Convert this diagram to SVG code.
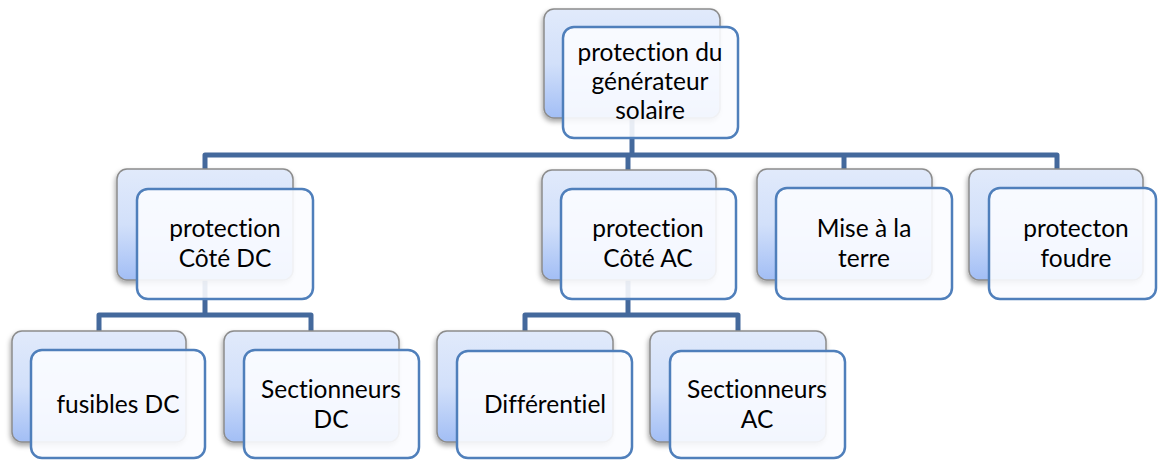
<svg xmlns="http://www.w3.org/2000/svg" width="1158" height="460" viewBox="0 0 1158 460">
<defs>
<linearGradient id="bg" x1="0" y1="0" x2="0" y2="1">
<stop offset="0" stop-color="#e1eafb"/>
<stop offset="0.5" stop-color="#d2e0fa"/>
<stop offset="1" stop-color="#a2bef5"/>
</linearGradient>
<filter id="sh" x="-20%" y="-20%" width="140%" height="150%">
<feDropShadow dx="-1" dy="3" stdDeviation="2.5" flood-color="#000" flood-opacity="0.35"/>
</filter>
</defs>
<style>
.back{fill:url(#bg);stroke:#8c8c8c;stroke-width:1.5;filter:url(#sh)}
.front{fill:#fbfcff;fill-opacity:0.9;stroke:#4f7fbb;stroke-width:2.5}
.con{fill:none;stroke:#44699c;stroke-width:5;stroke-linejoin:round}
text{font-family:Lato,"Open Sans","Liberation Sans",sans-serif;font-size:24.5px;fill:#000;text-anchor:middle;font-variant-ligatures:none;font-feature-settings:"liga" 0,"clig" 0,"dlig" 0}
</style>
<g id="connectors">
<path class="con" d="M632,118 V155"/>
<path class="con" d="M205,169 V155 H1057 V169"/>
<path class="con" d="M628,155 V170"/>
<path class="con" d="M844,155 V169"/>
<path class="con" d="M205,280 V315"/>
<path class="con" d="M99,331 V315 H311 V331"/>
<path class="con" d="M628,280 V315"/>
<path class="con" d="M525,331 V315 H738 V331"/>
</g>
<g id="n-top">
<rect class="back" x="544" y="9" width="176" height="109" rx="10"/>
<rect class="front" x="563" y="27" width="175" height="111" rx="11"/>
<text x="650" y="61">protection du</text>
<text x="650" y="90">générateur</text>
<text x="650" y="119">solaire</text>
</g>
<g id="n-dc">
<rect class="back" x="117" y="169" width="176" height="111" rx="10"/>
<rect class="front" x="137" y="189" width="176" height="110" rx="11"/>
<text x="225" y="237">protection</text>
<text x="225" y="267">Côté DC</text>
</g>
<g id="n-ac">
<rect class="back" x="542" y="170" width="174" height="110" rx="10"/>
<rect class="front" x="561" y="189" width="175" height="110" rx="11"/>
<text x="648" y="237">protection</text>
<text x="648" y="267">Côté AC</text>
</g>
<g id="n-terre">
<rect class="back" x="757" y="169" width="175" height="111" rx="10"/>
<rect class="front" x="776" y="188" width="176" height="111" rx="11"/>
<text x="864" y="237">Mise à la</text>
<text x="864" y="267">terre</text>
</g>
<g id="n-foudre">
<rect class="back" x="969" y="169" width="174" height="111" rx="10"/>
<rect class="front" x="989" y="188" width="167" height="111" rx="11"/>
<text x="1076" y="237">protecton</text>
<text x="1076" y="267">foudre</text>
</g>
<g id="n-fusibles">
<rect class="back" x="12" y="331" width="174" height="111" rx="10"/>
<rect class="front" x="31" y="350" width="174" height="108" rx="11"/>
<text x="118" y="413">fusibles DC</text>
</g>
<g id="n-sectdc">
<rect class="back" x="224" y="331" width="175" height="111" rx="10"/>
<rect class="front" x="244" y="350" width="175" height="108" rx="11"/>
<text x="331" y="398">Sectionneurs</text>
<text x="331" y="428">DC</text>
</g>
<g id="n-diff">
<rect class="back" x="437" y="331" width="176" height="111" rx="10"/>
<rect class="front" x="457" y="351" width="175" height="107" rx="11"/>
<text x="545" y="413">Différentiel</text>
</g>
<g id="n-sectac">
<rect class="back" x="650" y="331" width="176" height="111" rx="10"/>
<rect class="front" x="670" y="351" width="175" height="107" rx="11"/>
<text x="757" y="398">Sectionneurs</text>
<text x="757" y="428">AC</text>
</g>
</svg>
